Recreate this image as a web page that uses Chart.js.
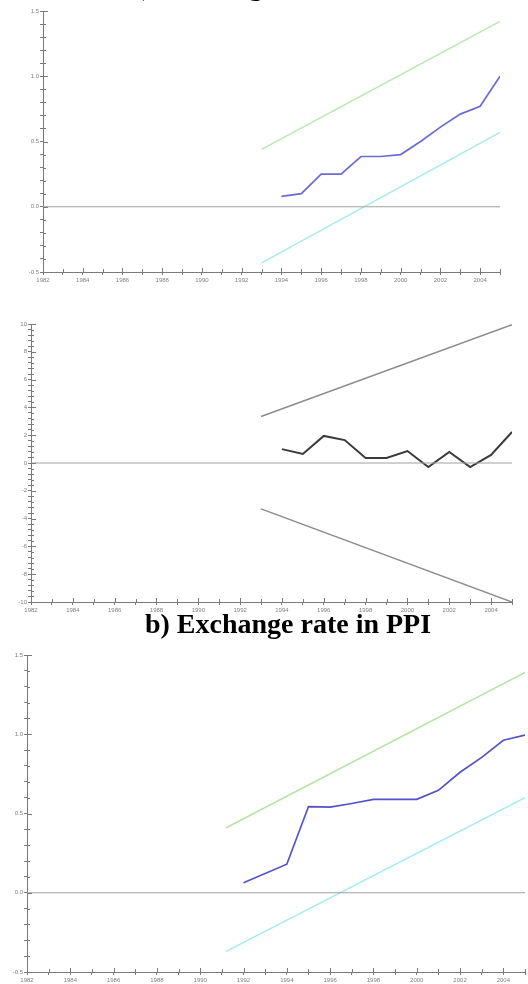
<!DOCTYPE html>
<html>
<head>
<meta charset="utf-8">
<script src="https://cdn.jsdelivr.net/npm/chart.js@4.4.1/dist/chart.umd.min.js"></script>
<style>
  body { margin: 0; width: 528px; height: 984px; overflow: hidden; background: #fff; position: relative; }
  .panel { position: absolute; left: 0; width: 528px; }
  .title { position: absolute; left: 0; width: 528px; text-align: center; font-family: "Liberation Serif", serif;
           font-weight: bold; font-size: 28px; line-height: 28px; color: #000; z-index: 2; white-space: nowrap; }
</style>
</head>
<body>
<div class="title" style="top:-28px; padding-left: 8px;">a) Exchange rate in CPI</div>
<div class="panel" style="top:0; height:290px;"><canvas id="cpiChart" width="528" height="290"></canvas></div>
<div class="panel" style="top:298px; height:320px;"><canvas id="cusumChart" width="528" height="320"></canvas></div>
<div class="title" style="top:610px; padding-left: 24px;">b) Exchange rate in PPI</div>
<div class="panel" style="top:640px; height:344px;"><canvas id="ppiChart" width="528" height="344"></canvas></div>
<script>
// x axis: years, labelled every second year
const xLabels = [1982, 1984, 1986, 1988, 1990, 1992, 1994, 1996, 1998, 2000, 2002, 2004];
const xRange = [1982, 2005];

// a) CPI - cusum of squares
const cpiYears = [1994, 1995, 1996, 1997, 1998, 1999, 2000, 2001, 2002, 2003, 2004, 2005];
const cpiValues = [0.08, 0.10, 0.25, 0.25, 0.385, 0.385, 0.40, 0.50, 0.61, 0.71, 0.77, 1.0];
const cpiBandYears = [1993, 2005];
const cpiUpper = [0.44, 1.42];
const cpiLower = [-0.43, 0.57];
const cpiYLabels = [-0.5, 0.0, 0.5, 1.0, 1.5];

// middle - cusum
const cusumYears = [1994, 1995, 1996, 1997, 1998, 1999, 2000, 2001, 2002, 2003, 2004, 2005];
const cusumValues = [1.0, 0.65, 1.95, 1.65, 0.36, 0.36, 0.86, -0.29, 0.79, -0.29, 0.58, 2.23];
const cusumBandYears = [1993, 2005];
const cusumUpper = [3.35, 9.95];
const cusumLower = [-3.3, -10];
const cusumYLabels = [-10, -8, -6, -4, -2, 0, 2, 4, 6, 8, 10];

// b) PPI - cusum of squares
const ppiYears = [1992, 1994, 1995, 1996, 1997, 1998, 2000, 2001, 2002, 2003, 2004, 2005];
const ppiValues = [0.063, 0.18, 0.544, 0.54, 0.563, 0.589, 0.589, 0.646, 0.76, 0.854, 0.962, 0.995];
const ppiBandYears = [1991.2, 2005];
const ppiUpper = [0.41, 1.39];
const ppiLower = [-0.37, 0.60];
const ppiYLabels = [-0.5, 0.0, 0.5, 1.0, 1.5];

const zeroValues = [0, 0];

const axisColor = "#7a7a7a";
const labelColor = "#808080";

function pts(xs, ys) {
  return xs.map((x, i) => ({ x: x, y: ys[i] }));
}

function isIn(list, v) {
  return list.some(l => Math.abs(l - v) < 1e-6);
}

// small tick marks drawn on the inner side of the axes as well
const crossTicks = {
  id: "crossTicks",
  afterDraw(chart) {
    const ctx = chart.ctx, a = chart.chartArea;
    const xs = chart.scales.x, ys = chart.scales.y;
    const yl = chart.options.plugins.crossTicks.yLabels;
    ctx.save();
    ctx.strokeStyle = axisColor;
    ctx.lineWidth = 1;
    ctx.beginPath();
    xs.ticks.forEach(t => {
      const px = Math.round(xs.getPixelForValue(t.value)) + 0.5;
      ctx.moveTo(px, a.bottom);
      ctx.lineTo(px, a.bottom - (isIn(xLabels, t.value) ? 4 : 3));
    });
    ys.ticks.forEach(t => {
      const py = Math.round(ys.getPixelForValue(t.value)) + 0.5;
      ctx.moveTo(a.left, py);
      ctx.lineTo(a.left + (isIn(yl, t.value) ? 5 : 3), py);
    });
    ctx.stroke();
    ctx.restore();
  }
};

function makeChart(id, opts) {
  const datasets = [
    { data: pts(xRange, zeroValues), borderColor: "#a0a0a0", borderWidth: 1 },
    { data: pts(opts.bandYears, opts.upper), borderColor: opts.upperColor, borderWidth: 1.5 },
    { data: pts(opts.bandYears, opts.lower), borderColor: opts.lowerColor, borderWidth: 1.5 },
    { data: pts(opts.years, opts.values), borderColor: opts.lineColor, borderWidth: opts.lineWidth },
  ];
  datasets.forEach(d => { d.pointRadius = 0; d.tension = 0; d.fill = false; });

  return new Chart(document.getElementById(id), {
    type: "line",
    data: { datasets: datasets },
    options: {
      responsive: false,
      animation: false,
      layout: { padding: opts.padding },
      plugins: {
        legend: { display: false },
        tooltip: { enabled: false },
        crossTicks: { yLabels: opts.yLabels },
      },
      scales: {
        x: {
          type: "linear",
          min: xRange[0],
          max: xRange[1],
          afterFit: s => { s.height = opts.xHeight; },
          border: { color: axisColor, width: 1 },
          grid: { drawOnChartArea: false, tickLength: 3, color: axisColor },
          ticks: {
            stepSize: 1,
            autoSkip: false,
            maxRotation: 0,
            padding: 2,
            color: labelColor,
            font: { family: "Liberation Sans", size: 6 },
            callback: v => (isIn(xLabels, v) ? String(v) : ""),
          },
        },
        y: {
          min: opts.yMin,
          max: opts.yMax,
          afterFit: s => { s.width = opts.yWidth; },
          border: { color: axisColor, width: 1 },
          grid: { drawOnChartArea: false, tickLength: 3, color: axisColor },
          ticks: {
            stepSize: opts.yStep,
            autoSkip: false,
            padding: 1,
            color: labelColor,
            font: { family: "Liberation Sans", size: 6 },
            callback: v => (isIn(opts.yLabels, v) ? opts.fmt(v) : ""),
          },
        },
      },
    },
    plugins: [crossTicks],
  });
}

makeChart("cpiChart", {
  years: cpiYears, values: cpiValues,
  bandYears: cpiBandYears, upper: cpiUpper, lower: cpiLower,
  yLabels: cpiYLabels, yMin: -0.5, yMax: 1.5, yStep: 0.1,
  fmt: v => v.toFixed(1),
  lineColor: "#6b6bd6", lineWidth: 1.7, upperColor: "#b9e8b0", lowerColor: "#a8ece4",
  padding: { top: 11, right: 28, left: 0, bottom: 0 },
  xHeight: 18, yWidth: 43,
});

makeChart("cusumChart", {
  years: cusumYears, values: cusumValues,
  bandYears: cusumBandYears, upper: cusumUpper, lower: cusumLower,
  yLabels: cusumYLabels, yMin: -10, yMax: 10, yStep: 0.4,
  fmt: v => String(Math.round(v)),
  lineColor: "#3a3a3a", lineWidth: 2, upperColor: "#8c8c8c", lowerColor: "#8c8c8c",
  padding: { top: 26, right: 16, left: 0, bottom: 0 },
  xHeight: 16, yWidth: 31,
});

makeChart("ppiChart", {
  years: ppiYears, values: ppiValues,
  bandYears: ppiBandYears, upper: ppiUpper, lower: ppiLower,
  yLabels: ppiYLabels, yMin: -0.5, yMax: 1.5, yStep: 0.1,
  fmt: v => v.toFixed(1),
  lineColor: "#5252cc", lineWidth: 1.7, upperColor: "#b4e4a4", lowerColor: "#a4ecec",
  padding: { top: 15, right: 3, left: 0, bottom: 0 },
  xHeight: 12, yWidth: 27,
});
</script>
</body>
</html>
